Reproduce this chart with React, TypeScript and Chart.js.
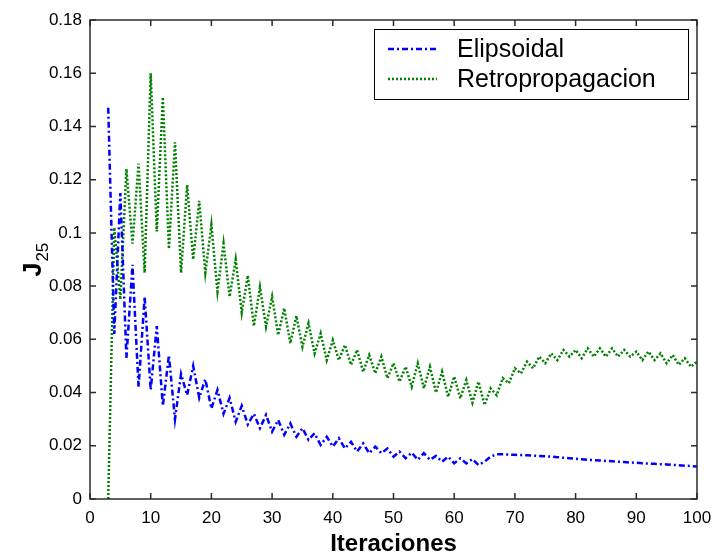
import React, { useEffect, useRef } from "react";
import { Chart, registerables } from "chart.js";

Chart.register(...registerables);

const FIRST_ITERATION = 3;
const X_TICKS = [0, 10, 20, 30, 40, 50, 60, 70, 80, 90, 100];
const Y_TICKS = [0, 0.02, 0.04, 0.06, 0.08, 0.1, 0.12, 0.14, 0.16, 0.18];
const SERIES_NAMES = ["Elipsoidal", "Retropropagacion"];
const X_TITLE = "Iteraciones";
const Y_TITLE_MAIN = "J";
const Y_TITLE_SUB = "25";

// iterations 3..100
const ELIPSOIDAL = [
  0.147, 0.062, 0.115, 0.053, 0.088, 0.042, 0.076, 0.041, 0.065, 0.035,
  0.054, 0.030, 0.047, 0.039, 0.050, 0.038, 0.045, 0.034, 0.041, 0.032,
  0.038, 0.029, 0.035, 0.028, 0.032, 0.0266, 0.0316, 0.0253, 0.0297, 0.0241,
  0.0284, 0.0234, 0.0266, 0.0222, 0.0247, 0.0203, 0.0234, 0.0197, 0.0228, 0.019,
  0.0215, 0.0178, 0.0209, 0.0172, 0.0197, 0.0172, 0.019, 0.0159, 0.0178, 0.0153,
  0.0174, 0.0147, 0.0172, 0.0147, 0.0162, 0.014, 0.0159, 0.0134, 0.0153, 0.0134,
  0.015, 0.0128, 0.014, 0.0159, 0.0168, 0.0168, 0.0167, 0.0166, 0.0165, 0.0164,
  0.0163, 0.0162, 0.0161, 0.0159, 0.0157, 0.0155, 0.0153, 0.0151, 0.0149, 0.0147,
  0.0146, 0.0145, 0.0143, 0.0142, 0.014, 0.0139, 0.0137, 0.0136, 0.0134, 0.0133,
  0.0132, 0.0131, 0.013, 0.0128, 0.0127, 0.0125, 0.0124, 0.0122,
];

const RETROPROPAGACION = [
  0, 0.102, 0.075, 0.124, 0.096, 0.126, 0.085, 0.160, 0.1005, 0.151,
  0.094, 0.134, 0.085, 0.118, 0.090, 0.112, 0.085, 0.103, 0.078, 0.096,
  0.076, 0.090, 0.070, 0.084, 0.065, 0.0796, 0.0648, 0.076, 0.0616, 0.0717,
  0.0585, 0.0688, 0.0572, 0.066, 0.0547, 0.0622, 0.0522, 0.0597, 0.0522, 0.0579,
  0.0504, 0.056, 0.0478, 0.0541, 0.0472, 0.0535, 0.0454, 0.051, 0.0441, 0.0497,
  0.0422, 0.051, 0.0416, 0.0497, 0.040, 0.0478, 0.0384, 0.046, 0.0378, 0.0447,
  0.0362, 0.0441, 0.0353, 0.0416, 0.039, 0.0454, 0.0435, 0.0491, 0.0472, 0.0516,
  0.0491, 0.0535, 0.051, 0.0547, 0.0522, 0.056, 0.0535, 0.056, 0.0529, 0.0566,
  0.0535, 0.0566, 0.0535, 0.0566, 0.0535, 0.056, 0.0535, 0.0554, 0.0522, 0.0554,
  0.0522, 0.0547, 0.051, 0.0541, 0.0504, 0.0529, 0.0497, 0.0516,
];

const COLORS = ["#0000ff", "#008000"];
const DASHES = [
  [6, 3, 2, 3],
  [2, 2],
];

const FONT = "'Liberation Sans', Arial, sans-serif";

const toPoints = (vals: number[]) =>
  vals.map((v, i) => ({ x: FIRST_ITERATION + i, y: v }));

const framePlugin = {
  id: "frame",
  afterDraw(chart: any) {
    const { ctx, chartArea } = chart;
    const { left, right, top, bottom } = chartArea;
    const xs = chart.scales.x;
    const ys = chart.scales.y;
    ctx.save();
    ctx.strokeStyle = "#2b2b2b";
    ctx.lineWidth = 1.5;
    ctx.setLineDash([]);
    ctx.strokeRect(left, top, right - left, bottom - top);
    const tl = 6;
    ctx.beginPath();
    X_TICKS.forEach((t) => {
      const px = xs.getPixelForValue(t);
      ctx.moveTo(px, bottom);
      ctx.lineTo(px, bottom - tl);
      ctx.moveTo(px, top);
      ctx.lineTo(px, top + tl);
    });
    Y_TICKS.forEach((t) => {
      const py = ys.getPixelForValue(t);
      ctx.moveTo(left, py);
      ctx.lineTo(left + tl, py);
      ctx.moveTo(right, py);
      ctx.lineTo(right - tl, py);
    });
    ctx.stroke();

    // legend
    const lw = 314;
    const lh = 70;
    const lx = right - 9 - lw;
    const ly = top + 9;
    ctx.fillStyle = "#ffffff";
    ctx.fillRect(lx, ly, lw, lh);
    ctx.strokeStyle = "#000000";
    ctx.lineWidth = 1;
    ctx.strokeRect(lx + 0.5, ly + 0.5, lw, lh);
    SERIES_NAMES.forEach((name, i) => {
      const cy = ly + 20 + i * 30;
      ctx.strokeStyle = COLORS[i];
      ctx.lineWidth = 2.5;
      ctx.setLineDash(DASHES[i]);
      ctx.beginPath();
      ctx.moveTo(lx + 14, cy);
      ctx.lineTo(lx + 63, cy);
      ctx.stroke();
      ctx.setLineDash([]);
      ctx.fillStyle = "#000000";
      ctx.font = `25px ${FONT}`;
      ctx.textAlign = "left";
      ctx.textBaseline = "middle";
      ctx.fillText(name, lx + 83, cy + 1);
    });

    // x title
    ctx.fillStyle = "#000000";
    ctx.font = `bold 24px ${FONT}`;
    ctx.textAlign = "center";
    ctx.textBaseline = "middle";
    ctx.fillText(X_TITLE, (left + right) / 2, bottom + 45);

    // y title with subscript
    ctx.save();
    ctx.translate(41, (top + bottom) / 2 + 17);
    ctx.rotate(-Math.PI / 2);
    ctx.textAlign = "left";
    ctx.textBaseline = "alphabetic";
    ctx.font = `bold 25px ${FONT}`;
    ctx.fillText(Y_TITLE_MAIN, 0, 0);
    const w = ctx.measureText(Y_TITLE_MAIN).width;
    ctx.font = `17px ${FONT}`;
    ctx.fillText(Y_TITLE_SUB, w + 1, 7);
    ctx.restore();
    ctx.restore();
  },
};

export default function App() {
  const ref = useRef<HTMLCanvasElement | null>(null);
  useEffect(() => {
    if (!ref.current) return;
    const chart = new Chart(ref.current, {
      type: "line",
      data: {
        datasets: [
          {
            label: SERIES_NAMES[0],
            data: toPoints(ELIPSOIDAL),
            borderColor: COLORS[0],
            borderWidth: 2.5,
            borderDash: DASHES[0],
            pointRadius: 0,
            tension: 0,
            fill: false,
          },
          {
            label: SERIES_NAMES[1],
            data: toPoints(RETROPROPAGACION),
            borderColor: COLORS[1],
            borderWidth: 2.5,
            borderDash: DASHES[1],
            pointRadius: 0,
            tension: 0,
            fill: false,
          },
        ],
      },
      options: {
        responsive: false,
        animation: false,
        layout: { padding: { left: 0, top: 20, right: 18, bottom: 0 } },
        plugins: {
          legend: { display: false },
          tooltip: { enabled: false },
        },
        scales: {
          x: {
            type: "linear",
            min: 0,
            max: 100,
            afterBuildTicks: (s: any) => {
              s.ticks = X_TICKS.map((v) => ({ value: v }));
            },
            afterFit: (s: any) => {
              s.height = 60;
              s.paddingLeft = 0;
              s.paddingRight = 0;
            },
            grid: { display: false, drawTicks: false },
            border: { display: false },
            ticks: {
              color: "#000",
              padding: 9,
              maxRotation: 0,
              font: { family: FONT, size: 17 },
            },
          },
          y: {
            type: "linear",
            min: 0,
            max: 0.18,
            afterBuildTicks: (s: any) => {
              s.ticks = Y_TICKS.map((v) => ({ value: v }));
            },
            afterFit: (s: any) => {
              s.width = 90;
              s.paddingTop = 0;
              s.paddingBottom = 0;
            },
            grid: { display: false, drawTicks: false },
            border: { display: false },
            ticks: {
              color: "#000",
              padding: 8,
              font: { family: FONT, size: 17 },
              callback: (v: any) => String(Number(Number(v).toFixed(2))),
            },
          },
        },
      },
      plugins: [framePlugin],
    });
    return () => chart.destroy();
  }, []);
  return (
    <div style={{ position: "fixed", left: 0, top: 0, width: 715, height: 559, background: "#fff" }}>
      <canvas ref={ref} width={715} height={559} />
    </div>
  );
}
